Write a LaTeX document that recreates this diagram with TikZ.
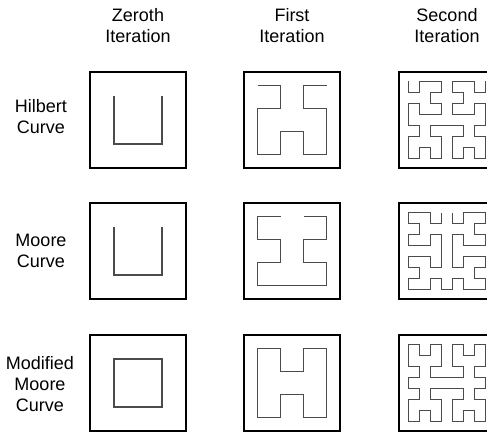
\documentclass[tikz,border=0pt]{standalone}
\usepackage{fontspec}
\setmainfont{Liberation Sans}
\usetikzlibrary{lindenmayersystems}

% one rule set serves all three curves
\pgfdeclarelindenmayersystem{Hilbert curve}{
  \rule{L -> +RF-LFL-FR+}
  \rule{R -> -LF+RFR+FL-}
}

\begin{document}
\begin{tikzpicture}[x=1pt, y=1pt, line join=miter]

    % --- Definitions ---
    \definecolor{curvegray}{RGB}{75, 75, 75}
    \tikzset{
        framebox/.style={draw=black, line width=2.6pt},
        curveline/.style={draw=curvegray, line width=1.2pt},
        headtext/.style={align=center, inner sep=0pt, anchor=north,
            font=\fontsize{18}{21}\selectfont},
        rowtext/.style={align=center, inner sep=0pt,
            font=\fontsize{18}{21}\selectfont}
    }

    \useasboundingbox (0,0) rectangle (487,432);

    % --- Headings ---
    \node[headtext] (zeroth) at (138,424) {Zeroth\\Iteration};
    \node[headtext] (first) at (292,424) {First\\Iteration};
    \node[headtext] (second) at (447,424) {Second\\Iteration};

    \node[rowtext] (hilbert) at (41,315) {Hilbert\\Curve};
    \node[rowtext] (moore) at (41,181) {Moore\\Curve};
    \node[rowtext] (modmoore) at (40,48) {Modified\\Moore\\Curve};

    % --- Hilbert row (frames 96 wide, curve start offset dx/dy) ---
    \foreach \x/\ord/\st/\dx/\dy in {90/1/48/24/24, 244/2/23/13.5/13.5, 399/3/11/9.5/9.5} {
        \draw[framebox] (\x,360) rectangle ++(96,-96);
        \draw[curveline, shift={(\x+\dx,360-\dy)},
            lindenmayer system={Hilbert curve, axiom=R,
            order=\ord, step=\st pt, angle=90}] lindenmayer system;
    }

    % --- Moore row ---
    \foreach \x/\ord/\st/\dx/\dy in {90/0/48/24/24, 244/1/23/36.5/13.5, 399/2/11/42.5/9.5} {
        \draw[framebox] (\x,229) rectangle ++(96,-96);
        \draw[curveline, shift={(\x+\dx,229-\dy)},
            lindenmayer system={Hilbert curve, axiom=-RFR+F+RFR,
            order=\ord, step=\st pt, angle=90}] lindenmayer system;
    }

    % --- Modified Moore row (closed) ---
    \foreach \x/\ord/\st/\dx/\dy in {90/0/48/24/24, 244/1/23/13.5/36.5, 399/2/11/9.5/42.5} {
        \draw[framebox] (\x,97) rectangle ++(96,-96);
        \draw[curveline, shift={(\x+\dx,97-\dy)},
            lindenmayer system={Hilbert curve, axiom=LFL-F-LFL-F,
            order=\ord, step=\st pt, angle=90}] lindenmayer system -- cycle;
    }

\end{tikzpicture}
\end{document}
